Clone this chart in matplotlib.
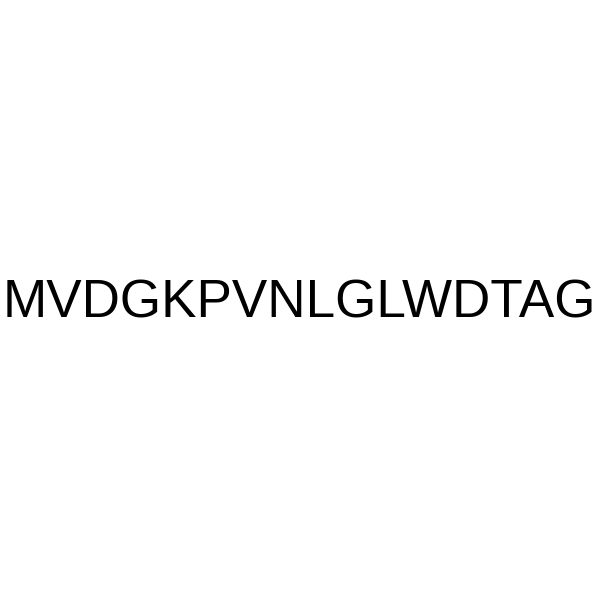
import matplotlib
matplotlib.use("Agg")
import matplotlib.pyplot as plt

sequence = "MVDGKPVNLGLWDTAG"

fig = plt.figure(figsize=(6, 6), dpi=100)
fig.patch.set_facecolor("white")
fig.text(0.4992, 1 - 317.5 / 600, sequence, ha="center", va="baseline",
         fontsize=38.2, family="Liberation Sans", color="black")
fig.savefig("out.png", dpi=100, facecolor="white")
